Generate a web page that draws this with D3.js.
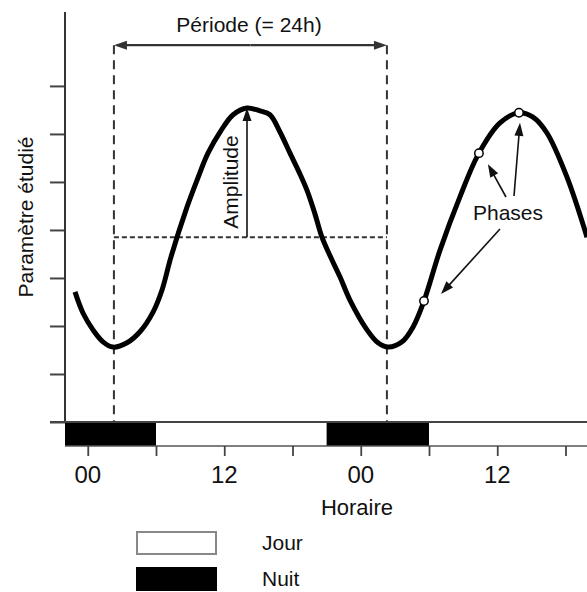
<!DOCTYPE html>
<html>
<head>
<meta charset="utf-8">
<script src="https://cdn.jsdelivr.net/npm/d3@7/dist/d3.min.js"></script>
<style>
  html, body { margin: 0; padding: 0; background: #fff; }
  svg { display: block; }
  text { font-family: "Liberation Sans", Arial, sans-serif; fill: #111; }
</style>
</head>
<body>
<svg id="chart" width="587" height="592"></svg>
<script>
// ---- data ----
const curveHours  = [-1.12, -0.42, 0.46, 1.34, 2.22, 3.45, 4.59, 5.74, 6.53, 7.32, 8.73, 9.61, 10.57, 11.63, 12.78, 14.0, 15.14, 16.02, 16.9, 17.78, 18.57, 19.27, 19.98, 20.59, 21.38, 22.18, 23.05, 24.55, 25.52, 26.4, 27.63, 28.6, 29.56, 30.97, 32.72, 34.39, 36.24, 37.91, 39.14, 40.37, 42.13, 43.89];
const curveValues = [2.71, 2.27, 1.92, 1.67, 1.56, 1.65, 1.88, 2.29, 2.75, 3.44, 4.48, 5.04, 5.60, 6.04, 6.40, 6.54, 6.48, 6.40, 6.04, 5.60, 5.21, 4.83, 4.33, 3.85, 3.42, 3.02, 2.54, 1.92, 1.65, 1.56, 1.67, 1.98, 2.52, 3.58, 4.69, 5.60, 6.23, 6.44, 6.35, 6.02, 5.10, 3.85];
const phaseHours  = [29.56, 34.39, 37.91];
const phaseValues = [2.52, 5.60, 6.44];
const yTickValues = [0, 1, 2, 3, 4, 5, 6, 7];
const xTickHours  = [0, 6, 12, 18, 24, 30, 36, 42];
const xLabelHours = [0, 12, 24, 36];
const xLabelTexts = ["00", "12", "00", "12"];
const nightStarts = [-3, 21];
const nightEnds   = [6, 30];
const periodStart = 2.3, periodEnd = 26.3;
const mesorValue = 3.85;
const peakHour = 14.0, peakValue = 6.54;
const periodArrowValue = 7.85;
const legendLabels = ["Jour", "Nuit"];
const legendFills = ["#fff", "#000"];

// ---- scales ----
const svg = d3.select("#chart");
const x = d3.scaleLinear().domain([-2, 44]).range([65, 588.25]);
const y = d3.scaleLinear().domain([0, 8.54]).range([422, 12]);
const barTop = 422, barBottom = 446;

// night/day bar
svg.selectAll("rect.night").data(nightStarts).join("rect")
  .attr("class", "night")
  .attr("x", (d) => Math.max(x(d), 65))
  .attr("y", barTop)
  .attr("width", (d, i) => x(nightEnds[i]) - Math.max(x(d), 65))
  .attr("height", barBottom - barTop)
  .attr("fill", "#000");
svg.append("line").attr("x1", 65).attr("x2", 587).attr("y1", barBottom).attr("y2", barBottom)
  .attr("stroke", "#555").attr("stroke-width", 1.6);

// x axis ticks under the bar
const xAxis = d3.axisBottom(x).tickValues(xTickHours).tickSize(10).tickFormat("");
const gx = svg.append("g").attr("transform", `translate(0,${barBottom})`).call(xAxis);
gx.select(".domain").remove();
gx.selectAll(".tick line").attr("stroke", "#444").attr("stroke-width", 1.8);

svg.selectAll("text.xl").data(xLabelHours).join("text")
  .attr("class", "xl")
  .attr("x", (d) => x(d))
  .attr("y", 483)
  .attr("text-anchor", "middle")
  .attr("font-size", 24)
  .text((d, i) => xLabelTexts[i]);

svg.append("text").attr("x", 357).attr("y", 515).attr("text-anchor", "middle")
  .attr("font-size", 22).text("Horaire");

// y axis
const yAxis = d3.axisLeft(y).tickValues(yTickValues).tickSize(15).tickFormat("");
const gy = svg.append("g").attr("transform", "translate(65,0)").call(yAxis);
gy.select(".domain").remove();
gy.selectAll(".tick line").attr("stroke", "#444").attr("stroke-width", 2);
svg.append("line").attr("x1", 65).attr("x2", 65).attr("y1", y(8.54)).attr("y2", barTop)
  .attr("stroke", "#333").attr("stroke-width", 2);
svg.append("line").attr("x1", 50).attr("x2", 587).attr("y1", barTop).attr("y2", barTop)
  .attr("stroke", "#444").attr("stroke-width", 1.8);

svg.append("text")
  .attr("transform", `translate(33,217) rotate(-90)`)
  .attr("text-anchor", "middle")
  .attr("font-size", 21)
  .text("Paramètre étudié");

// dashed period guides
[periodStart, periodEnd].forEach((h) => {
  svg.append("line").attr("x1", x(h)).attr("x2", x(h))
    .attr("y1", y(periodArrowValue)).attr("y2", barTop)
    .attr("stroke", "#333").attr("stroke-width", 2).attr("stroke-dasharray", "9,6");
});
svg.append("line").attr("x1", x(periodStart)).attr("x2", x(periodEnd))
  .attr("y1", y(mesorValue)).attr("y2", y(mesorValue))
  .attr("stroke", "#333").attr("stroke-width", 2).attr("stroke-dasharray", "5,3");

// arrow helper
function arrow(x1, y1, x2, y2, color, width, len, half) {
  const dx = x2 - x1, dy = y2 - y1, L = Math.hypot(dx, dy);
  const ux = dx / L, uy = dy / L;
  const bx = x2 - ux * len, by = y2 - uy * len;
  svg.append("line").attr("x1", x1).attr("y1", y1).attr("x2", bx + ux * 2).attr("y2", by + uy * 2)
    .attr("stroke", color).attr("stroke-width", width);
  svg.append("path")
    .attr("d", `M${x2},${y2}L${bx - uy * half},${by + ux * half}L${bx + uy * half},${by - ux * half}Z`)
    .attr("fill", color);
}

// period double arrow
const pY = y(periodArrowValue);
const pMid = (x(periodStart) + x(periodEnd)) / 2;
arrow(pMid, pY, x(periodStart), pY, "#333", 2.2, 13, 4.5);
arrow(pMid, pY, x(periodEnd), pY, "#333", 2.2, 13, 4.5);
svg.append("text").attr("x", 249).attr("y", 32).attr("text-anchor", "middle")
  .attr("font-size", 21).text("Période (= 24h)");

// curve
const pts = curveHours.map((h, i) => [x(h), y(curveValues[i])]);
svg.append("path")
  .attr("d", d3.line().curve(d3.curveCatmullRom.alpha(0.5))(pts))
  .attr("fill", "none").attr("stroke", "#000").attr("stroke-width", 5)
  .attr("stroke-linecap", "butt").attr("stroke-linejoin", "round");

// amplitude arrow
arrow(x(peakHour), y(mesorValue), x(peakHour), y(peakValue), "#111", 1.6, 13, 4.5);
svg.append("text")
  .attr("transform", `translate(238,182) rotate(-90)`)
  .attr("text-anchor", "middle")
  .attr("font-size", 21)
  .text("Amplitude");

// phase arrows (from label toward markers)
const phaseFrom = [[500, 229], [506, 197], [514, 196]];
const phaseTipOffset = [[17, -7], [9, 11], [1, 10]];
phaseHours.forEach((h, i) => {
  const tx = x(h) + phaseTipOffset[i][0], ty = y(phaseValues[i]) + phaseTipOffset[i][1];
  arrow(phaseFrom[i][0], phaseFrom[i][1], tx, ty, "#111", 1.6, 13, 4.5);
});
svg.append("text").attr("x", 473).attr("y", 220).attr("font-size", 21).text("Phases");

// phase markers
svg.selectAll("circle.ph").data(phaseHours).join("circle")
  .attr("class", "ph")
  .attr("cx", (d) => x(d))
  .attr("cy", (d, i) => y(phaseValues[i]))
  .attr("r", 4.2)
  .attr("fill", "#fff").attr("stroke", "#000").attr("stroke-width", 1.5);

// legend
legendLabels.forEach((lab, i) => {
  const yy = i === 0 ? 532 : 568;
  svg.append("rect").attr("x", 137).attr("y", yy).attr("width", 79).attr("height", 22)
    .attr("fill", legendFills[i]).attr("stroke", i === 0 ? "#888" : "#000").attr("stroke-width", 2);
  svg.append("text").attr("x", 262).attr("y", yy + 18).attr("font-size", 21).text(lab);
});
</script>
</body>
</html>
